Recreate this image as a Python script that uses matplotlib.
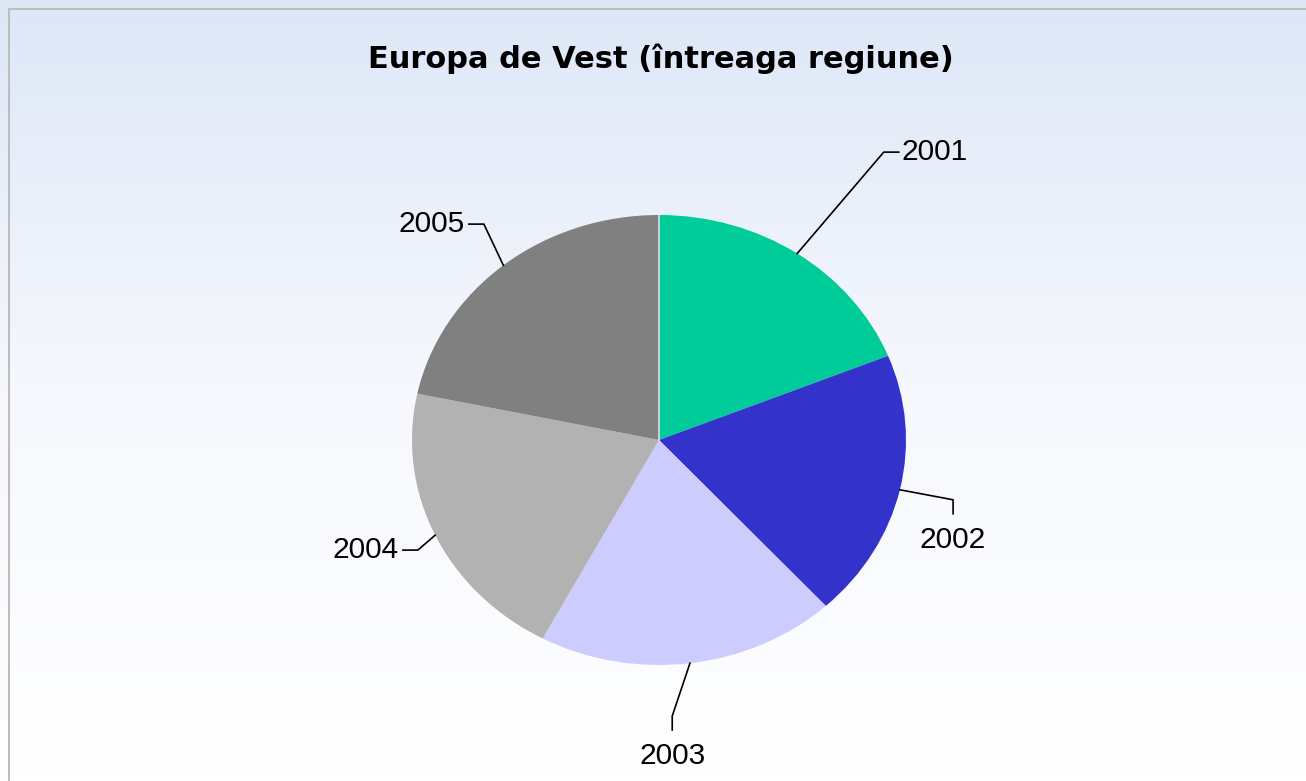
import numpy as np
import matplotlib
matplotlib.use("Agg")
import matplotlib.pyplot as plt
from matplotlib.colors import LinearSegmentedColormap

plt.rcParams['font.family'] = ['Liberation Sans', 'DejaVu Sans']

title = "Europa de Vest (întreaga regiune)"
years = ["2001", "2002", "2003", "2004", "2005"]
shares = [18.9, 19.3, 19.6, 20.5, 21.7]
colors = ["#00CC99", "#3333CC", "#CCCCFF", "#B2B2B2", "#808080"]

W, H = 1306, 781
fig = plt.figure(figsize=(W / 100, H / 100), dpi=100)

# background gradient + frame
bg = fig.add_axes([0, 0, 1, 1])
grad = np.linspace(0, 1, 256).reshape(-1, 1)
cmap = LinearSegmentedColormap.from_list("bg", ["#DDE7F7", "#F6F8FD", "#FFFFFF"])
bg.imshow(grad, aspect="auto", cmap=cmap, extent=[0, W, H, 0])
bg.set_xlim(0, W)
bg.set_ylim(H, 0)
bg.plot([8.5, 8.5, W + 5], [H + 5, 8.5, 8.5], color="#BDBDBD", lw=1.5)
bg.axis("off")

# the original is a stretched Arial; DejaVu Bold gets the width closer
fig.text(661 / W, 1 - 59 / H, title, ha="center", va="center",
         fontsize=22, fontweight="bold", color="black", family="DejaVu Sans")

# pie (elliptical: axes box is not square)
cx, cy, rx, ry = 659, 440, 247, 225
ax = fig.add_axes([(cx - rx) / W, (H - cy - ry) / H, 2 * rx / W, 2 * ry / H])
wedges, _ = ax.pie(shares, colors=colors, startangle=90, counterclock=False,
                   radius=1, wedgeprops=dict(linewidth=0))
ax.set_aspect("auto")
ax.set_xlim(-1, 1)
ax.set_ylim(-1, 1)
ax.axis("off")

# thin light seam at the start angle
a0 = np.deg2rad(wedges[0].theta2)
ax.plot([0, np.cos(a0)], [0, np.sin(a0)], color="#D8DEEA", lw=1.2)

# leader lines: elbow radius, angle tweak (deg) and tail direction per label
elbow_r = [1.57, 1.22, 1.228, 1.092, 1.193]
elbow_dt = [-1.4, 0.2, -4.7, 1.6, -2.6]
tails = ["right", "down", "down", "left", "left"]
tail_x = 15 / rx
tail_y = 14 / ry
for w, lab, er, dt, tail in zip(wedges, years, elbow_r, elbow_dt, tails):
    mid = np.deg2rad((w.theta1 + w.theta2) / 2)
    x0, y0 = np.cos(mid), np.sin(mid)
    x1, y1 = er * np.cos(mid + np.deg2rad(dt)), er * np.sin(mid + np.deg2rad(dt))
    if tail == "right":
        x2, y2 = x1 + tail_x, y1
        tx, ty, ha, va = x2 + 3 / rx, y2, "left", "center"
    elif tail == "left":
        x2, y2 = x1 - tail_x, y1
        tx, ty, ha, va = x2 - 4 / rx, y2, "right", "center"
    else:
        x2, y2 = x1, y1 - tail_y
        tx, ty, ha, va = x2, y2 - 12 / ry, "center", "top"
    ax.plot([x0, x1, x2], [y0, y1, y2], color="black", lw=1.2, clip_on=False)
    ax.text(tx, ty, lab, ha=ha, va=va, fontsize=21.5, color="black", clip_on=False)

fig.savefig("out.png", dpi=100)
